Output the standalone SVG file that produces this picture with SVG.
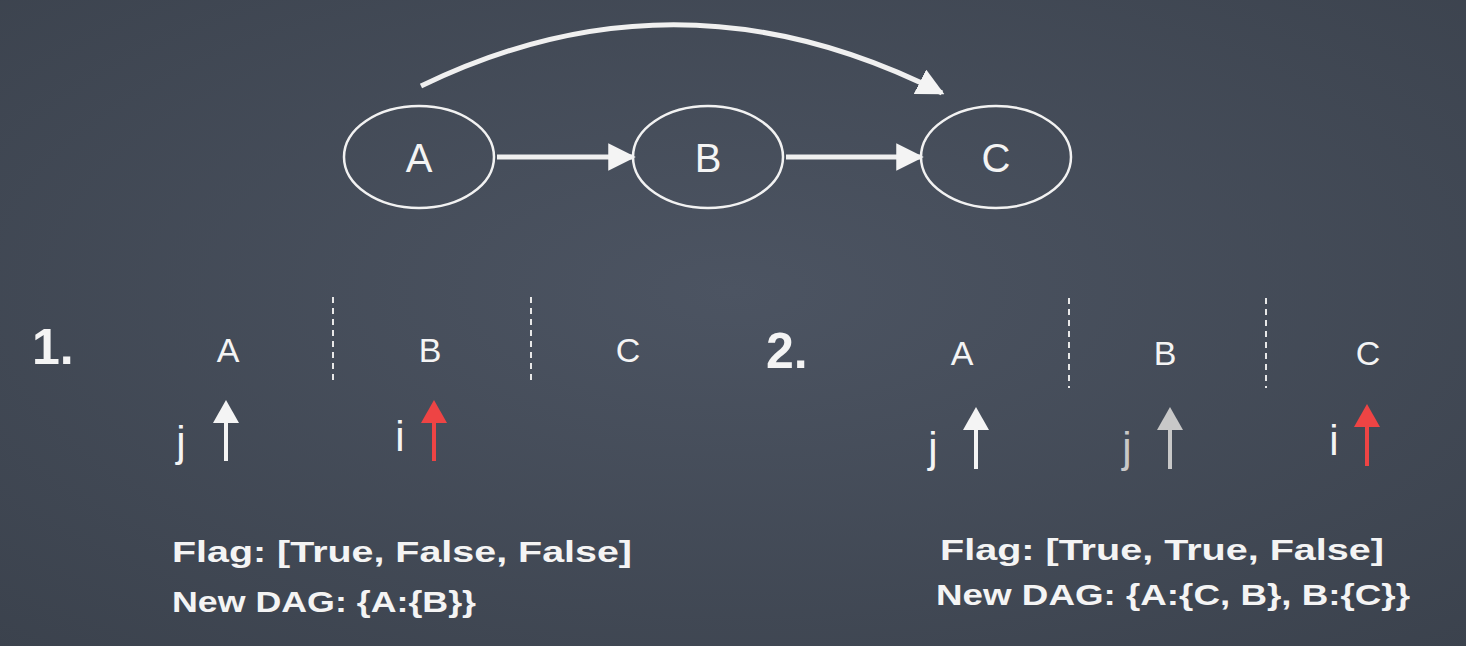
<svg xmlns="http://www.w3.org/2000/svg" width="1466" height="646" viewBox="0 0 1466 646">
<defs>
<radialGradient id="bg" cx="0.5" cy="0.45" r="0.75">
<stop offset="0" stop-color="#4c5462"/>
<stop offset="1" stop-color="#3b424d"/>
</radialGradient>
<marker id="ah2" viewBox="0 0 10 10" refX="9" refY="5" markerWidth="5.5" markerHeight="5.5" orient="auto">
<path d="M0,0 L10,5 L0,10 z" fill="#f4f4f4"/>
</marker>
</defs>
<style>
.node{fill:none;stroke:#f2f2f2;stroke-width:2.5}
.lbl{font-family:"Liberation Sans",Arial,sans-serif;fill:#f4f4f4;text-anchor:middle}
.big{font-size:40px}
.mid{font-size:34px}
.ij{font-size:42px}
.num{font-family:"Liberation Sans",Arial,sans-serif;fill:#f4f4f4;font-size:50px;font-weight:bold}
.txt{font-family:"Liberation Sans",Arial,sans-serif;fill:#f4f4f4;font-size:30px;font-weight:bold}
.edge{fill:none;stroke:#f0f0f0;stroke-width:5}
.dash{stroke:#e8e8e8;stroke-width:2;stroke-dasharray:6,5}
</style>
<rect width="1466" height="646" fill="url(#bg)"/>
<g id="connectors">
<path class="edge" d="M421,86 Q680,-40 942,93" marker-end="url(#ah2)"/>
<line class="edge" x1="497" y1="157" x2="633" y2="157" marker-end="url(#ah2)"/>
<line class="edge" x1="786" y1="157" x2="921" y2="157" marker-end="url(#ah2)"/>
</g>
<g id="nodeA"><ellipse class="node" cx="419" cy="157" rx="75" ry="51"/><text class="lbl big" x="419" y="172">A</text></g>
<g id="nodeB"><ellipse class="node" cx="708" cy="157" rx="75" ry="51"/><text class="lbl big" x="708" y="172">B</text></g>
<g id="nodeC"><ellipse class="node" cx="996" cy="157" rx="75" ry="51"/><text class="lbl big" x="996" y="172">C</text></g>
<g id="panel1">
<text class="num" x="32" y="364">1.</text>
<line class="dash" x1="333" y1="297" x2="333" y2="385"/>
<line class="dash" x1="531" y1="297" x2="531" y2="385"/>
<text class="lbl mid" x="228" y="362">A</text>
<text class="lbl mid" x="430" y="362">B</text>
<text class="lbl mid" x="628" y="362">C</text>
<text class="lbl ij" x="181" y="456">j</text>
<line x1="226" y1="461" x2="226" y2="415" stroke="#f4f4f4" stroke-width="4"/>
<path d="M226,400 L239,423 L213,423 z" fill="#f4f4f4"/>
<text class="lbl ij" x="400" y="451">i</text>
<line x1="434" y1="461" x2="434" y2="415" stroke="#ee4444" stroke-width="4"/>
<path d="M434,400 L447,423 L421,423 z" fill="#ee4444"/>
<text class="txt" x="172" y="562" textLength="460" lengthAdjust="spacingAndGlyphs">Flag: [True, False, False]</text>
<text class="txt" x="172" y="612" textLength="304" lengthAdjust="spacingAndGlyphs">New DAG: {A:{B}}</text>
</g>
<g id="panel2">
<text class="num" x="766" y="368">2.</text>
<line class="dash" x1="1069" y1="298" x2="1069" y2="388"/>
<line class="dash" x1="1266" y1="298" x2="1266" y2="388"/>
<text class="lbl mid" x="962" y="365">A</text>
<text class="lbl mid" x="1165" y="365">B</text>
<text class="lbl mid" x="1368" y="365">C</text>
<text class="lbl ij" x="933" y="462">j</text>
<line x1="976" y1="469" x2="976" y2="422" stroke="#f4f4f4" stroke-width="4"/>
<path d="M976,407 L989,430 L963,430 z" fill="#f4f4f4"/>
<text class="lbl ij" x="1127" y="462" style="fill:#c8c8c8">j</text>
<line x1="1170" y1="469" x2="1170" y2="422" stroke="#c8c8c8" stroke-width="4"/>
<path d="M1170,407 L1183,430 L1157,430 z" fill="#c8c8c8"/>
<text class="lbl ij" x="1334" y="455">i</text>
<line x1="1367" y1="466" x2="1367" y2="418" stroke="#ee4444" stroke-width="4"/>
<path d="M1367,404 L1380,427 L1354,427 z" fill="#ee4444"/>
<text class="txt" x="940" y="560" textLength="444" lengthAdjust="spacingAndGlyphs">Flag: [True, True, False]</text>
<text class="txt" x="936" y="605" textLength="474" lengthAdjust="spacingAndGlyphs">New DAG: {A:{C, B}, B:{C}}</text>
</g>
</svg>
